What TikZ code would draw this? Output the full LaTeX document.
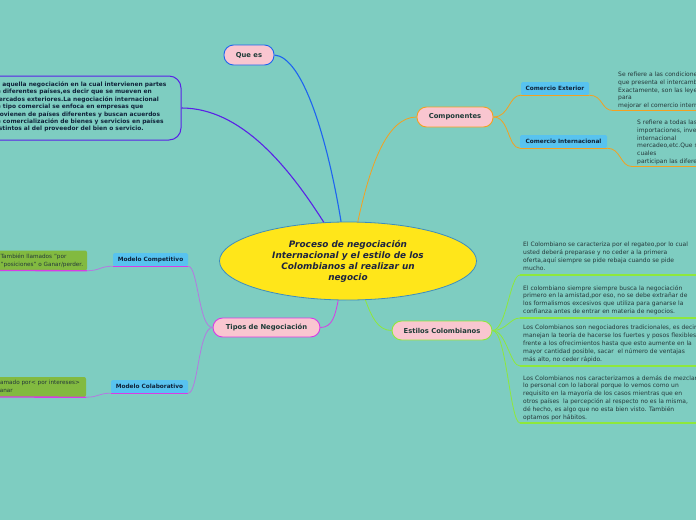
\documentclass[tikz,border=0pt]{standalone}
\usepackage{fontspec}
\setmainfont{DejaVu Sans}
\usetikzlibrary{shapes.geometric}
\definecolor{bg}{HTML}{7ECDC1}
\definecolor{cyellow}{HTML}{FFE61A}
\definecolor{cborder}{HTML}{3C8DC0}
\definecolor{pinkf}{HTML}{F9C6D0}
\definecolor{bluef}{HTML}{58C3EF}
\definecolor{greenf}{HTML}{82BA40}
\definecolor{qblue}{HTML}{1E64F0}
\definecolor{violetc}{HTML}{5A22E6}
\definecolor{orangec}{HTML}{F4A020}
\definecolor{limec}{HTML}{8EE83C}
\definecolor{magentac}{HTML}{D93BE6}
\definecolor{lilac}{HTML}{B47AE0}
\definecolor{labeldark}{HTML}{1D3B37}
\definecolor{navy}{HTML}{10233A}
\definecolor{textdark}{HTML}{25383A}
\definecolor{cnavy}{HTML}{1C2340}
\tikzset{
  pill/.style={rounded corners=9.5pt, fill=pinkf, line width=0.9pt, minimum height=20pt, inner sep=0pt,
    font=\fontsize{6.8}{8}\selectfont\bfseries, text=labeldark},
  bluebox/.style={rounded corners=1.5pt, fill=bluef, minimum height=13pt, inner sep=0pt,
    font=\fontsize{5.8}{7}\selectfont\bfseries, text=navy},
  greenbox/.style={rounded corners=2pt, fill=greenf, minimum height=20pt, inner sep=0pt},
  para/.style={anchor=north west, inner sep=0pt, align=left, font=\fontsize{6}{7.9}\selectfont, text=textdark},
  conn/.style={line width=0.8pt},
  uline/.style={line width=1.3pt}
}
\begin{document}
\begin{tikzpicture}[x=1pt,y=-1pt]
\fill[bg] (0,0) rectangle (696,520);
\useasboundingbox (0,0) rectangle (696,520);

% central
\node[ellipse, draw=cborder, line width=0.8pt, fill=cyellow, minimum width=257pt, minimum height=78pt, inner sep=0pt] (c) at (348,261) {};
\node[align=center, inner sep=0pt, font=\fontsize{8.9}{11}\selectfont\bfseries\itshape, text=cnavy] (ct) at (348,261.5)
  {Proceso de negociación\\Internacional y el estilo de los\\Colombianos al realizar un\\negocio};

% Que es
\node[pill, draw=qblue, minimum width=50pt] (qe) at (249,55) {Que es};
\node[draw=violetc, line width=1pt, rounded corners=12pt, minimum width=201pt, minimum height=64pt, inner sep=0pt] (def) at (80.5,108) {};
\node[anchor=north west, inner sep=0pt, align=left, font=\fontsize{5.9}{7.4}\selectfont\bfseries, text=navy] (deft) at (-7.5,81.5)
  {Es aquella negociación en la cual intervienen partes\\de diferentes países,es decir que se mueven en\\mercados exteriores.La negociación internacional\\de tipo comercial se enfoca en empresas que\\provienen de países diferentes y buscan acuerdos\\de comercialización de bienes y servicios en países\\distintos al del proveedor del bien o servicio.};

% Componentes
\node[pill, draw=orangec, minimum width=76pt] (comp) at (455,117) {Componentes};
\node[bluebox, minimum width=68pt] (ce) at (555,88.5) {Comercio Exterior};
\node[bluebox, minimum width=87pt] (ci) at (563.5,141.5) {Comercio Internacional};
\node[para] (cet) at (618,71.5) {Se refiere a las condiciones\\que presenta el intercambio\\Exactamente, son las leyes\\para\\mejorar el comercio internacional};
\node[para] (cit) at (637,119.5) {S refiere a todas las\\importaciones, inversiones\\internacional\\mercadeo,etc.Que se\\cuales\\participan las diferentes};
\coordinate (ceu) at (613,110.5);
\coordinate (ceur) at (700,110.5);
\coordinate (ciu) at (632,166.5);
\coordinate (ciur) at (700,166.5);

% Estilos
\node[pill, draw=limec, minimum width=100pt, minimum height=19pt] (est) at (442,330.5) {Estilos Colombianos};
\node[para] (e1) at (523,242) {El Colombiano se caracteriza por el regateo,por lo cual\\usted deberá preparase y no ceder a la primera\\oferta,aquí siempre se pide rebaja cuando se pide\\mucho.};
\node[para] (e2) at (523,285) {El colombiano siempre siempre busca la negociación\\primero en la amistad,por eso, no se debe extrañar de\\los formalismos excesivos que utiliza para ganarse la\\confianza antes de entrar en materia de negocios.};
\node[para] (e3) at (523,325) {Los Colombianos son negociadores tradicionales, es decir\\manejan la teoría de hacerse los fuertes y posos flexibles\\frente a los ofrecimientos hasta que esto aumente en la\\mayor cantidad posible, sacar \ el número de ventajas\\más alto, no ceder rápido.};
\node[para] (e4) at (523,375) {Los Colombianos nos caracterizamos a demás de mezclar\\lo personal con lo laboral porque lo vemos como un\\requisito en la mayoría de los casos mientras que en\\otros países \ la percepción al respecto no es la misma,\\dé hecho, es algo que no esta bien visto. También\\optamos por hábitos.};
\coordinate (u1) at (520,275); \coordinate (u1r) at (700,275);
\coordinate (u2) at (520,318); \coordinate (u2r) at (700,318);
\coordinate (u3) at (520,366); \coordinate (u3r) at (700,366);
\coordinate (u4) at (520,423); \coordinate (u4r) at (700,423);

% Tipos
\node[pill, draw=magentac, minimum width=107pt, minimum height=19pt] (tip) at (266.5,327.5) {Tipos de Negociación};
\node[bluebox, minimum width=75pt] (mc) at (150.5,259.5) {Modelo Competitivo};
\node[bluebox, minimum width=77pt] (mo) at (149.5,386.5) {Modelo Colaborativo};
\node[greenbox, minimum width=97pt] (g1) at (38.5,260.5) {};
\node[greenbox, minimum width=96pt] (g2) at (38,387) {};
\node[para, font=\fontsize{5.7}{7.8}\selectfont] (g1t) at (0.5,253.5) {También llamados "por\\"posiciones" o Ganar/perder.};
\node[para, font=\fontsize{5.7}{7.8}\selectfont] (g2t) at (-4.8,380) {Llamado por< por intereses>\\Ganar};
\coordinate (g1l) at (-10,270.5);
\coordinate (g2l) at (-10,397);

% connectors
\draw[qblue, line width=1.1pt] (qe.east) .. controls +(28,2) and +(-14,-85) .. (c.100);
\draw[violetc, line width=1.1pt] (def.east) .. controls +(60,0) and +(-35,-55) .. (c.122);
\draw[orangec, conn] (c.76) .. controls +(12,-55) and +(-30,0) .. (comp.west);
\draw[magentac, conn] (c.256) .. controls +(-3,15) and +(12,0) .. (tip.east);
\draw[limec, conn] (c.294) .. controls +(6,16) and +(-14,0) .. (est.west);

\draw[orangec, conn] (comp.east) .. controls +(16,0) and +(-12,0) .. (ce.south west);
\draw[orangec, conn] (comp.east) .. controls +(16,0) and +(-12,0) .. (ci.south west);
\draw[orangec, uline] (ce.south west) -- (ce.south east);
\draw[orangec, uline] (ci.south west) -- (ci.south east);
\draw[orangec, conn] (ce.south east) .. controls +(14,0) and +(-12,0) .. (ceu);
\draw[orangec, uline] (ceu) -- (ceur);
\draw[orangec, conn] (ci.south east) .. controls +(14,0) and +(-12,0) .. (ciu);
\draw[orangec, uline] (ciu) -- (ciur);

\foreach \u in {u1,u2,u3,u4}{
  \draw[limec, conn] (est.east) .. controls +(14,0) and +(-10,0) .. (\u);
  \draw[limec, uline] (\u) -- (\u r);
}

\draw[lilac, conn] (tip.west) .. controls +(-14,0) and +(10,0) .. (mc.south east);
\draw[lilac, conn] (tip.west) .. controls +(-14,0) and +(10,0) .. (mo.south east);
\draw[magentac, uline] (mc.south west) -- (mc.south east);
\draw[magentac, uline] (mo.south west) -- (mo.south east);
\draw[lilac, conn] (mc.south west) .. controls +(-13,0) and +(13,0) .. (g1.south east);
\draw[lilac, conn] (mo.south west) .. controls +(-13,0) and +(13,0) .. (g2.south east);
\draw[magentac, uline] (g1.south east) -- (g1l);
\draw[magentac, uline] (g2.south east) -- (g2l);
\end{tikzpicture}
\end{document}
